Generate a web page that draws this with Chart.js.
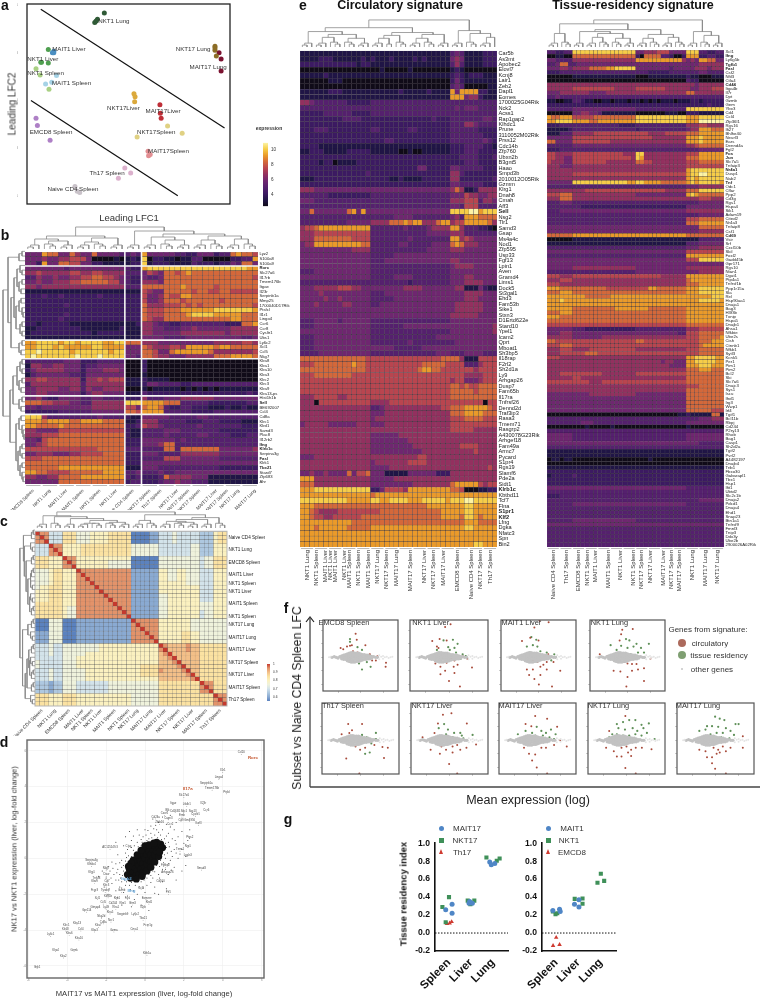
<!DOCTYPE html>
<html>
<head>
<meta charset="utf-8">
<title>Signature figure</title>
<script src="https://cdn.jsdelivr.net/npm/chart.js@4"></script>
<style>
html, body { margin: 0; padding: 0; background: #fff; }
#page { position: relative; width: 763px; height: 998px; overflow: hidden; font-family: "Liberation Sans", Arial, sans-serif; color: #222; }
#page canvas { position: absolute; }
.txt { position: absolute; white-space: nowrap; transform: translate(-50%, -50%); will-change: transform; }
.key { position: absolute; }
</style>
</head>
<body>
<div id="page"></div>
<script>
// ===== PANEL A: leading LFC scatter =====
const aSubsets = ['NKT1 Lung', 'MAIT1 Liver', 'NKT1 Liver', 'NKT1 Spleen', 'MAIT1 Spleen', 'NKT17 Lung', 'MAIT17 Lung', 'NKT17 Liver', 'MAIT17 Liver', 'NKT17 Spleen', 'MAIT17 Spleen', 'EMCD8 Spleen', 'Th17 Spleen', 'Naive CD4 Spleen'];
const aColors = ['#2f5a36', '#4a8fc2', '#4f9f50', '#a9d083', '#a6d3e6', '#8c6d26', '#7b1230', '#dba93c', '#bf2f38', '#e0d183', '#e28e92', '#ae80c6', '#dcb1cd', '#c9c2c9'];
const aPoints = [
    [[-.05, .55], [-.10, .51], [-.12, .49], [-.11, .50]],
    [[-.42, .31], [-.42, .30], [-.43, .30]],
    [[-.46, .32], [-.51, .24], [-.515, .24], [-.46, .235]],
    [[-.55, .20], [-.52, .16], [-.455, .07]],
    [[-.40, .157], [-.435, .114], [-.48, .104]],
    [[.76, .34], [.76, .33], [.76, .316], [.77, .28]],
    [[.79, .30], [.805, .26], [.805, .186]],
    [[.167, .043], [.175, .024], [.172, -.008]],
    [[.357, -.027], [.36, -.08], [.366, -.112]],
    [[.413, -.16], [.52, -.206], [.19, -.23]],
    [[.27, -.318], [.286, -.339], [.274, -.347]],
    [[-.55, -.112], [-.54, -.157], [-.447, -.25]],
    [[.10, -.424], [.143, -.455], [.053, -.488]],
    [[-.265, -.54], [-.248, -.57], [-.23, -.578]]
];
const aLabelNames = ['NKT1 Lung', 'MAIT1 Liver', 'NKT1 Liver', 'NKT1 Spleen', 'MAIT1 Spleen', 'NKT17 Lung', 'MAIT17 Lung', 'NKT17Liver', 'MAIT17Liver', 'NKT17Spleen', 'EMCD8 Spleen', 'MAIT17Spleen', 'Th17 Spleen', 'Naive CD4 Spleen'];
const aLabelX = [.02, -.31, -.5, -.48, -.29, .6, .71, .09, .38, .33, -.44, .42, -.03, -.28];
const aLabelY = [.5, .32, .26, .17, .11, .32, .21, -.05, -.07, -.2, -.2, -.32, -.46, -.56];
const aLineTop = [[-.515, .573], [.83, -.173]];
const aLineBottom = [[-.587, 0], [.488, -.598]];

// ===== PANEL G: tissue residency index =====
const gLeftBlue = [[-.15, .26], [.14, .32], [.14, .22], [.91, .33], [1.06, .33], [.94, .35], [1.85, .79], [1.92, .76], [2.08, .775]];
const gLeftGreen = [[-.3, .29], [0, .40], [-.15, .12], [.85, .36], [1.15, .36], [.97, .32], [1.7, .84], [2.17, .805], [2.3, .83]];
const gLeftRed = [[-.09, .105], [.03, .11], [.12, .125]];
const gRightBlue = [[-.15, .25], [.15, .265], [.18, .24], [.82, .32], [1.02, .37], [1.02, .29]];
const gRightGreen = [[-.15, .24], [-.03, .21], [.05, .22], [.83, .38], [1.18, .385], [1.18, .325], [1.85, .56], [2, .66], [2.15, .58]];
const gRightRed = [[0, -.05], [-.14, -.14], [.15, -.13]];
const gCategories = ['Spleen', 'Liver', 'Lung'];

// ===== PANEL D: MAIT17 vs NK17 log-fold change =====
const dCore = [[-.9, -.9], [-.8, -.6], [-.7, -1], [-.7, -.4], [-.6, -.8], [-.5, -1], [-.5, -.5], [-.5, -.2], [-.4, -.7], [-.3, -.9], [-.3, -.4], [-.3, 0], [-.2, -.6], [-.2, -.2], [-.1, -.8], [-.1, -.3], [-.1, .2], [0, -.5], [0, 0], [0, .4], [.1, -.3], [.1, .2], [.1, .6], [.2, -.1], [.2, .4], [.3, -.2], [.3, .2], [.3, .7], [.4, 0], [.4, .5], [.5, .2], [.5, .7], [.6, .4], [.6, .9], [.7, .6], [.8, .8], [.9, .6], [-.6, -.1], [-.4, .2], [-.2, .45], [0, .7], [.2, .75], [-.7, -.25], [-.85, -.45], [-.45, -1.15], [-.15, -1], [.1, -.7], [.3, -.5], [.5, -.2], [.7, .1], [.75, .35], [-.75, -1.1], [.45, .85]];
const dHalo = [[-1.2, -1.3], [-1.1, -.7], [-1.3, -.9], [-1, -1.5], [-.8, -1.5], [-1.5, -1.2], [-1.3, -1.6], [-.5, -1.5], [-.2, -1.3], [.1, -1.1], [.2, -.9], [.4, -.7], [.6, -.4], [.8, -.1], [1, .2], [1.1, .6], [1.2, .9], [1, 1.1], [.8, 1.3], [.5, 1.3], [.2, 1.1], [0, .9], [-.2, .7], [-.5, .3], [-.7, .1], [-.9, -.2], [-1.1, -.4], [-1.4, -.6], [-1.6, -.9], [-1.7, -1.4], [-1.5, -1.8], [-1.1, -1.9], [-.6, -1.8], [-.3, -1.6], [.1, -1.5], [.4, -1.1], [.7, -.9], [.9, -.6], [1.2, -.3], [1.4, .1], [1.5, .5], [1.6, .8], [1.4, 1.1], [1.2, 1.4], [.9, 1.6], [.6, 1.6], [.3, 1.4], [-.1, 1.2], [-.4, .9], [-.7, .6], [-1, .3], [-1.2, -.1], [-1.5, -.3], [-1.8, -.7], [-2, -1.1], [-2.1, -1.6], [-1.9, -2], [-1.4, -2.2], [-.9, -2.1], [-.4, -2], [0, -1.9], [.5, -1.6], [.9, -1.3], [1.2, -.9], [1.5, -.5], [1.7, 0], [1.9, .5], [1.7, 1.2], [1.5, 1.6], [1.1, 1.9], [.7, 2], [.3, 1.8], [0, 1.6], [-.3, 1.3], [-.7, 1], [-1.1, .7], [-1.4, .2], [-1.7, -.2], [-2.2, -.7], [-2.4, -1], [-1.2, -2.6], [-.7, -2.7], [.3, -2.2], [.7, -2], [1.1, -1.7], [1.6, -1.2], [1.9, -.7], [2.1, .1], [2.2, 1], [1.9, 1.5], [1.6, 2], [.9, 2.3], [.4, 2.2], [-.4, 1.6], [-1, 1.2], [-1.5, .9], [-.8, 1.5], [1.3, 2.4], [2.3, 1.6], [2.1, -.4], [.2, -2.9], [-.2, -2.6], [-1.25, -1.1], [-1.05, -1.2], [-1.15, -.95], [-.95, -1.3], [-.7, -1.35], [-.35, -1.3], [-.05, -1.2], [.3, -.95], [.5, -.75], [.75, -.45], [.95, -.25], [1.05, 0], [1.15, .3], [1.25, .65], [1.05, .85], [.85, 1.05], [.65, 1.15], [.35, 1.15], [.1, 1], [-.15, .9], [-.35, .65], [-.6, .45], [-.85, .15], [-1, -.15], [-1.2, -.5], [-1.45, -.8], [-1.35, -1.2], [1.3, -.1], [1.35, .4], [1.1, 1.25], [.7, 1.45], [.05, 1.3], [-.55, .7], [-.9, .5], [-1.3, -.25], [-1.65, -.55], [-1.75, -1.1], [-1.2, -1.65], [-.75, -1.75], [-.1, -1.65], [.3, -1.35], [.75, -1.1], [1.05, -.6], [1.6, .3], [1.55, 1], [.45, 1.65], [.55, 1.85], [.15, 1.55], [-.2, 1.05], [-.95, .05], [-1.9, -.45], [-1.85, -1.7], [-.55, -2.3], [.5, -1.95], [1.35, -.65], [1.8, .25], [2, .85], [1.3, 1.75], [-.6, 1.25]];
const dGeneNames = ['Ccl20', 'Il1r1', 'Lingo4', 'Serpinb1a', 'Tmem176b', 'Ptsfcl', 'Slc27a6', 'Il23r', 'Itgae', 'Ltb4r1', 'Blk', 'Cd163l1', 'Sdc1', 'Sox13', 'Ccr6', 'Cxcr6', 'Emb', 'Cysltr1', 'Cd24a', 'Capn3', 'Cd9', 'Gm4956', 'Zbtb16', 'Ccr2', 'Ikzf3', 'Ptgs2', 'Nrp1', 'Trem1', 'Lgals3', 'AC125149.3', 'Ctsg', 'Serpina3g', 'Klhdc4', 'Nkg7', 'Klrg1', 'Smad3', 'Arhgap26', 'Fgfbp2', 'Tnfsf8', 'Ctsw', 'Cd7', 'Klra9', 'Klrc3', 'Fcgr3', 'Tyrobp', 'Gzmb', 'Ccl3', 'Prf1', 'Cd160', 'Xcl1', 'Klrb1b', 'Klrk1', 'Fasl', 'Eomes', 'Klrd1', 'Ccl5', 'Cd244', 'Klre1', 'Ifitm3', 'Gimap4', 'Ly49', 'Klra1', 'Il2rb', 'Gpr114', 'Klra5', 'Serpinb9', 'Ly6c2', 'Nkg2d', 'Ncr1', 'Cd8a', 'Tbx21', 'Klra7', 'Fcer1g', 'Klra13', 'Klrc1', 'Klra8', 'Ccl4', 'Klra3', 'Gzma', 'Cma1', 'Ly6c1', 'Klra6', 'Klra10', 'Klra4', 'Gzmk', 'Klra2', 'Klrb1a', 'Ifnb1'];
const dGeneX = [4.95, 4, 3.8, 3.15, 3.45, 4.2, 2, 3, 1.45, 2.15, 1.15, 1.55, 2, 2.45, 3.15, 1, 1.9, 2.6, .55, 1.2, 1.85, 2.3, .75, 1.3, 2.75, 2.3, 2.2, 1.8, 2.2, -1.8, -.85, -2.75, -2.75, -2, -2.75, 2.9, 1.15, 1.05, -2.5, -2, -1.95, -2.6, -2, -2.6, -2.05, -1.2, -.2, 1.2, .8, -2.45, -1.9, -1.45, -.9, .05, .2, -2.15, -1.65, -1.15, -.65, -2.55, -2, -1.5, -.1, -3, -1.8, -1.15, -.5, -2.25, -1.75, -2.15, -.1, -2.4, .15, -3.5, -4.05, -4.1, -3.3, -2.6, -1.6, -.55, -4.85, -3.9, -3.4, -4.6, -3.65, -4.2, .1, -5.55];
const dGeneY = [5.8, 4.8, 4.4, 4.1, 3.8, 3.6, 3.4, 3, 3, 2.9, 2.6, 2.55, 2.55, 2.55, 2.6, 2.4, 2.3, 2.35, 2.2, 2.15, 2.05, 2.05, 1.9, 1.8, 1.85, 1.1, .6, .4, .1, .5, .6, -.2, -.45, -.65, -.85, -.65, -.9, -.5, -1.2, -1, -1.35, -1.4, -1.6, -1.85, -1.9, -1.9, -1.75, -2, -1.35, -2.3, -2.2, -2.3, -2.3, -2.3, -2.55, -2.55, -2.6, -2.6, -2.6, -2.8, -2.85, -2.85, -2.8, -3, -3.1, -3.2, -3.2, -3.35, -3.55, -3.65, -3.45, -3.85, -3.8, -3.7, -3.85, -4.05, -4.05, -4.1, -4.1, -4.05, -4.35, -4.3, -4.55, -5.2, -5.2, -5.55, -5.4, -6.15];
const dHighlights = [['Rorc', 5.55, 5.6, '#c4552d'], ['Il17a', 2.2, 3.9, '#c4552d'], ['Itgb2', -.95, -1.15, '#62a3d6'], ['Ifng', -.7, -1.8, '#62a3d6']];
const dTicks = [-6, -4, -2, 0, 2, 4, 6];

// ===== PANEL F: MA plots, x is log mean expression, y is LFC =====
const fBackground = [[2.4, 0], [3, .1], [3.5, 0], [4, -.1], [4.5, .1], [5, .2], [5, -.2], [5, 0], [5.5, .3], [5.5, -.3], [5.5, 0], [6, .4], [6, -.3], [6, 0], [6.5, .5], [6.5, -.5], [6.5, 0], [6.5, .25], [6.5, -.25], [7, .6], [7, -.6], [7, 0], [7, .3], [7, -.3], [7.5, .7], [7.5, -.7], [7.5, .2], [7.5, -.2], [7.5, .45], [7.5, -.45], [8, .7], [8, -.7], [8, 0], [8, .35], [8, -.35], [8.5, .6], [8.5, -.7], [8.5, .1], [8.5, .35], [8.5, -.3], [9, .6], [9, -.6], [9, 0], [9, .3], [9, -.3], [9.5, .6], [9.5, -.6], [9.5, 0], [9.5, .3], [9.5, -.3], [10, .5], [10, -.5], [10, 0], [10, .25], [10, -.25], [10.5, .4], [10.5, -.4], [10.5, 0], [11, .4], [11, -.3], [11, 0], [11.5, .3], [11.5, -.3], [11.5, 0], [12, .3], [12, -.2], [12, 0], [12.5, .2], [12.5, -.2], [12.5, 0], [13, .1], [13, -.1], [13.5, .1], [14, 0], [14.5, 0]];
const fTail = [[15, .3], [15, -.3], [15.5, .1], [16, .2], [16, -.2], [16.5, 0], [17, .1], [17.5, -.1], [18, 0], [18.5, .1], [1.6, 0], [2, .1]];
const emcd8Red = [[8.7, 3.5], [9, 2.6], [4.7, 1.4], [5.4, 1.2], [6.4, 1.6], [7.2, 1.7], [7.7, 1.8], [8, .9], [9.2, .7], [11.3, 1.8], [12.5, .45], [14.5, .15], [14.1, -.45], [13.1, -.45], [16.8, -.8], [16.7, -1.4], [7.2, -.7], [8.4, .45], [10, .15], [11.7, -.2], [5.6, .2]];
const emcd8Green = [[7.2, 2.7], [7.2, 2.3], [9.2, 1.5], [10.4, 1.1], [9.6, .45], [12.9, .2], [12.1, 0], [10.4, -1.8], [12.7, -1.4], [9.6, -.9], [8, -.45], [6.4, 0], [11.7, -.7]];
const nkt1LiverRed = [[10.4, 4.9], [9, 4.5], [7.6, 2.7], [5.7, 2.4], [6.9, 1.6], [7.3, 1.4], [9.4, 2.5], [6.5, -.9], [7.8, -1.4], [9.4, -.8], [10.6, -.2], [11.4, -.45], [11.2, -1.4], [12.2, -1.1], [13.5, .2], [14.7, -.2], [15.9, -1.5], [9, -2], [7.8, -2.5], [11.4, -2.3], [10, -3.5], [12.8, -4.3]];
const nkt1LiverGreen = [[11, 2.6], [9.8, 1.5], [8.6, 2.5], [10.2, 1.1], [11.4, 1.4], [12.2, 2], [13.5, .45], [14.3, .2], [11.8, .7], [9.4, .45], [7.3, .7], [10.6, .2], [8.6, -.2], [13, -.2], [6.9, 1.1]];
const mait1LiverRed = [[10.3, 5.4], [8.9, 4.4], [5.6, 2.4], [7.8, 2.9], [10, 2.5], [8.5, -.45], [9.7, -.7], [10.9, -.2], [12.2, -.7], [11.3, -1.1], [10.5, -1.4], [12.6, .45], [14, -.7], [15.8, -2], [6.9, -1.8], [8.5, -1.8], [7.5, -2.6], [10.5, -2.6], [12.2, -1.8], [8.9, -3.2], [10.1, -4], [13.6, -4.3], [12.7, 5.2]];
const mait1LiverGreen = [[8.1, 3], [9.4, 2.6], [6.9, 1.6], [8.5, 1.8], [9.7, 1.6], [10.5, .9], [12.2, .7], [14.2, .45], [14.6, 0], [12.6, 0], [7.7, .7], [5.6, .2], [8.9, 0], [11.3, .2], [13.4, -.45]];
const nkt1LungRed = [[8.6, 4.1], [11.4, 4.2], [8.3, 3.4], [7.9, 2.5], [4.7, .2], [2.6, .45], [10, -.9], [11.2, -1], [12.4, -1], [9.1, -.7], [6.3, -2], [8.1, -2.1], [11.2, -2], [12.8, -1.8], [14.4, -1.6], [10, -2.9], [14.4, -3.5], [9.7, -4.3], [16.1, -.2]];
const nkt1LungGreen = [[9.6, 2.7], [10.5, 2.5], [7.1, 1.1], [8.3, 1.7], [10, 1.4], [11.6, 1.6], [12.4, 2], [13.6, 1.4], [15.7, 2], [14.4, .7], [6.7, .45], [8.7, .45], [10.8, .45], [12.8, .7], [14.4, 0], [5.5, 1.8]];
const th17Red = [[6.8, 2.4], [10.4, 2.4], [7.8, 1.5], [7.1, 1.1], [5.1, .9], [5.9, .3], [8.7, -.9], [9.9, -1.4], [11.2, -1.1], [13.6, -.7], [15.7, -1], [17.1, -1.1], [16.1, -2.6], [6.3, -2.7], [9.7, -4.9], [12.4, -.2], [7.1, 0]];
const th17Green = [[10.4, .8], [11.6, .45], [14, .2], [14, 1.1], [7.9, .2], [9.5, .2], [12.4, -1.8], [11.2, -2], [12.8, -.45], [4.6, 0], [10.4, -.2]];
const nkt17LiverRed = [[8.3, 3.8], [10.5, 4], [7, 2.5], [14.5, 2.5], [6.1, 1.1], [3, .45], [4.7, 0], [5.9, -.2], [5.1, -1.4], [7.5, -2], [9.1, -1.4], [10.8, -.9], [12, -.7], [12.8, -1.4], [14.4, -1.1], [16.9, -.6], [9.9, -3.5], [12, -4.9], [7.9, -.9], [10.8, -1.8]];
const nkt17LiverGreen = [[8.6, 2.4], [7.2, 1.8], [9.6, 1.6], [9.1, .9], [11.2, 1.1], [13.2, .7], [12.8, 1.1], [16, .8], [13.6, .3], [10.8, .45], [8.3, .6], [12, .2]];
const mait17LiverRed = [[6.9, 2.4], [9.4, 3.6], [12.5, 3.2], [15.1, 2], [8.4, 2.1], [6.1, -.2], [7.8, -.7], [11, -1.1], [12.2, -1.1], [14.3, -.7], [17.6, -.9], [6.5, -1.1], [7.8, -2], [9.4, -2.1], [8.6, -3], [9.8, -4], [12.5, -4.9], [15.9, 0]];
const mait17LiverGreen = [[6.9, 1.4], [8.6, 1.1], [9.8, 2], [11, 1.4], [12.2, 1.1], [13.5, 1.6], [14.7, .9], [4.9, .9], [7.8, .45], [9.4, .7], [11.4, .7], [13.1, .45], [14.3, .2], [10.2, .2]];
const nkt17LungRed = [[5.5, 1.4], [9.7, 3.6], [7.5, -.2], [8.7, -1.1], [10, -.9], [11.2, -1.4], [12.4, -1.1], [10.4, -1.8], [7.5, -2.4], [8.7, -2.4], [4.7, -1.1], [6.7, -1.6], [14, -1.1], [16.5, -1.3], [9.7, -4.1], [12.4, -4.9], [11.2, -2.3]];
const nkt17LungGreen = [[7.5, 2.4], [9.1, 2.7], [10.7, 3], [12.3, 3], [13.9, 2.3], [15.8, 2.5], [14.4, 1.8], [6.3, .9], [7.9, 1.8], [9.6, 1.6], [11.6, 1.8], [12.8, 1.4], [7.5, .9], [9.1, .7], [10.7, .7], [12.3, .9], [13.9, .7], [15.3, 1.1], [17.3, .2], [5.5, .45]];
const mait17LungRed = [[9.1, -3.4], [9.9, -4.2], [12.7, -4.9], [7.8, -2.5], [9.1, -2.5], [5.8, -1.4], [7.4, -1.6], [9.5, -1.1], [10.7, -1.4], [11.9, -.9], [12.7, -1.6], [10.3, -2], [17.1, -1.1], [17.1, .6], [7, -.45], [11.1, -1.8], [13.9, -1.1]];
const mait17LungGreen = [[9.9, 3.5], [11.1, 3.2], [12.3, 3], [15.2, 2.4], [16, 2.4], [7.8, 2.1], [9.1, 2.1], [10.7, 2], [12.7, 1.8], [5.8, 1.4], [7.4, 1.6], [8.7, .9], [10.3, 1.1], [11.9, 1.1], [13.9, 1.4], [9.5, .45], [11.5, .45], [13.6, .3], [14.8, .8], [6.6, .45]];

// ===== PANEL B: expression levels, one hex digit per cell (18 | 3 | 21 columns) =====
const bGenes = ['Lyz2', 'S100a8', 'S100a9', 'Rorc', 'Slc27a6', 'Il17rb', 'Tmem176b', 'Itgae', 'Il23r', 'Serpinb1a', 'Mmp25', '1700040D17Rik', 'Ptsfcl', 'Il1r1', 'Lingo4', 'Ccr6', 'Ccr8', 'Cysltr1', 'Ubs1', 'Ly6c2', 'Xcl1', 'Ccl5', 'Nkg7', 'Klra8', 'Klra1', 'Klra10', 'Klra3', 'Klrc2', 'Klrc3', 'Klra9', 'Klra13-ps', 'Hist1h1b', 'Sell', 'BE692007', 'Ccl4', 'Cd8a', 'Klrc1', 'Klrd1', 'Samd3', 'Plac8', 'Il12rb2', 'Ifng', 'Klrb1c', 'Serpina3g', 'Fasl', 'Klrk1', 'Tbx21', 'Stard7', 'Zfp683', 'Ahr'];
const bRows = [
    '444877 447544 744443 343 8444443 3224442 3378776',
    '444544 556664 000010 121 9022110 1133000 0022338',
    '442844 776644 221111 122 9122211 1132221 2243774',
    '444444 434444 444444 322 8999999 9999999 9999988',
    '556555 556655 665555 333 4654776 7877777 7777777',
    '335445 445566 776654 322 4334777 7777777 7777776',
    '445445 556677 777664 322 5554777 7777777 7777777',
    '554555 555555 555555 333 7777777 8777776 7777777',
    '111111 111111 111111 111 6544777 7767766 7766666',
    '222322 322222 232222 222 6445766 8877777 7777777',
    '222222 222222 222222 222 6445777 6777777 6777777',
    '222222 232222 222222 222 7555666 7676777 7777776',
    '222222 222222 222222 222 7666777 8888889 9999998',
    '222222 232222 222222 222 7666777 7899998 8888777',
    '222222 322222 222222 222 7655777 7777777 7788777',
    '221222 221111 111111 112 5543322 3333333 3222778',
    '112222 222211 111112 111 5544333 4454444 4455555',
    '122222 222222 122222 111 5544444 5555555 5455555',
    '111111 111111 111111 111 4444333 3444444 4444334',
    '889999 899899 998899 777 5554444 4444445 5555665',
    '889998 988888 998888 444 7655566 5888887 8877777',
    '99a999 998999 999899 444 7764478 8888875 5555556',
    '9a9999 999a99 9a9999 443 7765544 4555557 7788887',
    '233333 344422 233333 000 2000000 0000000 0000000',
    '155445 544423 344444 000 2000000 0000000 0000000',
    '245555 544424 445554 000 2000000 0000000 0000000',
    '134444 443324 444444 000 1000000 0000000 0000000',
    '556655 555525 565666 111 2111100 0000000 0000000',
    '355555 555535 555555 111 2443333 2233333 3333333',
    '445555 445535 445555 000 1011111 0101010 1111111',
    '445544 444424 554444 111 3222222 2222222 2222232',
    '445322 444433 443333 222 5333444 5555554 4444444',
    '777665 554433 555555 999 8888777 3333322 2222233',
    '443444 444444 555555 664 7887322 3322211 1211211',
    '222222 333333 444444 776 8888333 3322223 3333333',
    '999533 333333 343333 211 4444433 3334433 3333333',
    '888788 887788 887777 112 5553333 3222333 2222111',
    '887777 877777 777777 223 6554333 3334333 3333222',
    '554444 666666 666666 211 3333444 3333333 2222222',
    '555666 777777 777777 211 3333433 3334433 3322233',
    '443677 777777 777777 222 4444443 4333333 3333333',
    '445677 777777 777777 222 4445773 3333333 3333333',
    '666666 666666 677777 333 3333773 7777777 4444445',
    '445554 445566 667777 222 4443333 5555555 4444444',
    '666777 777777 777777 222 3333666 4444444 3333333',
    '777777 777777 777777 222 4444444 4444444 4444444',
    '777777 888888 888888 111 4443333 3333333 2222222',
    '887766 667777 778888 334 3334334 4444444 4444444',
    '554455 777788 888888 323 2223755 5544411 1111111',
    '444444 777777 777777 233 2223445 4433311 1111111'
];
const bSampleIdx = [1, 4, 7, 10, 13, 16, 19, 22, 24, 27, 29, 31, 34, 36, 38, 41];
const bSampleNames = ['EMCD8 Spleen', 'NKT1 Lung', 'MAIT1 Liver', 'MAIT1 Spleen', 'NKT1 Spleen', 'NKT1 Liver', 'Naive CD4 Spleen', 'NKT17 Spleen', 'Th17 Spleen', 'NKT17 Liver', 'MAIT17 Spleen', 'NKT17 Spleen', 'MAIT17 Liver', 'MAIT17 Spleen', 'NKT17 Lung', 'MAIT17 Lung'];

// ===== PANEL C: sample correlation, one digit per cell (low 0 to high 9) =====
const cSampleIdx = [1, 4, 7, 10, 12, 14, 17, 20, 22, 25, 28, 31, 34, 37, 40];
const cSampleNames = ['Naive CD4 Spleen', 'NKT1 Lung', 'EMCD8 Spleen', 'MAIT1 Liver', 'NKT1 Spleen', 'NKT1 Liver', 'MAIT1 Spleen', 'NKT1 Spleen', 'NKT17 Lung', 'MAIT17 Lung', 'MAIT17 Liver', 'NKT17 Spleen', 'NKT17 Liver', 'MAIT17 Spleen', 'Th17 Spleen'];
const cRows = [
    '988 333 666 444555566666 000011 333433333 222 566',
    '898 333 666 444555566666 000011 333433333 222 566',
    '889 333 666 444555566666 000011 333433333 222 566',
    '333 988 555 566666666666 444444 333333344 222 555',
    '333 898 555 566666666666 444444 333333344 222 555',
    '333 889 555 566666666666 444444 333333344 222 555',
    '666 555 988 555555555555 000000 444444444 344 666',
    '666 555 898 555555544444 000000 444444444 344 666',
    '666 555 889 555555544444 000000 444444444 344 666',
    '444 566 555 988888888888 111111 554455444 333 555',
    '444 566 555 898888888888 111111 554455444 333 555',
    '444 566 555 889888888888 111111 554455444 333 555',
    '444 566 555 888988888888 111111 555555444 333 555',
    '455 666 555 888898888888 111111 555555555 333 555',
    '555 666 555 888889888888 111111 555555555 333 555',
    '555 666 555 888888988888 111111 445555555 333 555',
    '555 666 555 888888898888 111111 445555555 333 555',
    '666 666 555 888888889888 111111 445555555 444 555',
    '666 666 544 888888888988 111111 445555555 444 555',
    '666 666 544 888888888898 111111 445555555 344 555',
    '666 666 544 888888888889 111111 445555555 344 555',
    '000 444 000 111111111111 988888 555555544 444 444',
    '000 444 000 111111111111 898888 555555544 444 444',
    '000 444 000 111111111111 889888 555555544 444 444',
    '111 444 000 111111111111 888988 555556655 444 444',
    '111 444 000 111111111111 888898 555556655 444 444',
    '111 444 000 111111111111 888889 555556655 444 444',
    '333 433 444 444445555555 555555 987777877 666 666',
    '333 433 444 444445555555 555555 897777877 666 666',
    '333 433 444 445555555555 555555 789777777 666 666',
    '333 333 444 555555555555 555555 778977777 666 666',
    '433 333 444 555555555555 555555 777897777 666 666',
    '433 333 444 555555555555 556666 777789777 666 666',
    '333 433 444 445555555555 556666 877778977 666 666',
    '333 433 444 445555555555 556666 777777897 666 666',
    '333 433 444 445555555555 555555 777777789 666 666',
    '222 122 444 333333344444 444444 666666666 988 666',
    '222 122 444 333333344444 444444 666666666 898 666',
    '222 122 444 333333344444 444444 666666666 889 666',
    '666 555 666 555555555555 444444 666666666 666 988',
    '666 555 666 555555555555 444444 666666666 666 898',
    '666 555 666 555555555555 444444 666666666 666 889'
];

// ===== PANEL E: circulatory signature (3 | 12 | 17 | 3 | 3 | 4 columns) =====
const circGenes = ['Car5b', 'As3mt', 'Apobec2', 'Elovl7', 'Kcnj8', 'Lair1', 'Zeb2', 'Dapl1', 'Eomes', '1700025G04Rik', 'Nck2', 'Acss1', 'Rap1gap2', 'Klhdc1', 'Prune', '3110052M02Rik', 'Prss12', 'Cdc14b', 'Zfp760', 'Ubxn2b', 'B3gnt5', 'Haao', 'Smpd3b', '2010012O05Rik', 'Gzmm', 'Klrg1', 'Dnah8', 'Cmah', 'Aff3', 'Sell', 'Nsg2', 'Tlr1', 'Samd3', 'Gsap', 'Ms4a4c', 'Nod1', 'Zfp595', 'Usp33', 'Fgf13', 'Lpin1', 'Aven', 'Gramd4', 'Lims1', 'Dock5', 'St3gal1', 'Ehd3', 'Fam53b', 'Sike1', 'Stxn3', 'D1Ertd622e', 'Stard10', 'Ypel1', 'Icam2', 'Qprt', 'Mboat1', 'Sh3bp5', 'Il18rap', 'F2rl2', 'Sh2d1a', 'Ly9', 'Arhgap26', 'Dusp7', 'Fam65b', 'Il17ra', 'Tnfrsf26', 'Dennd2d', 'Traf3ip3', 'Rasa3', 'Tmem71', 'Rasgrp2', 'A430078G23Rik', 'Arhgef18', 'Fam49a', 'Armc7', 'Pycard', 'S1pr4', 'Rgs19', 'Slamf6', 'Pde2a', 'Sidt1', 'Klrb1c', 'Kbtbd11', 'Tcf7', 'Flna', 'S1pr1', 'Klf2', 'Lfng', 'Dgka', 'Nfatc3', 'Spn', 'Bin2'];
const circRows = [
    '111 111111111111 11111111111111111 343 111 1222',
    '111 122211111121 21112111121211111 454 111 1222',
    '222 222222222122 11111111111111111 353 111 1222',
    '000 000000000000 00100000100000000 121 000 0000',
    '111 112111111111 11111111111111111 232 122 2111',
    '000 000111000000 00000000000000000 242 111 1111',
    '000 000000000000 00000000000000000 343 000 0011',
    '111 111222111111 11111121111121111 848 888 2211',
    '111 111111111111 11111111111111111 888 455 2111',
    '554 333333322222 33333333333333333 333 333 3333',
    '333 333333333333 33333333333333333 343 444 3333',
    '222 223333332222 33333333333333333 333 333 3333',
    '222 222222333322 22222222222223222 333 333 3443',
    '222 222222222222 22222222222222222 333 554 3333',
    '222 333222222222 33222222332222222 333 333 2222',
    '222 222222222222 22222222222222222 333 333 3222',
    '222 222222222222 22233222222222222 333 333 3432',
    '222 211111111111 11111111111111111 222 333 3221',
    '112 221111122222 11111100100111111 222 333 2222',
    '222 222222222222 22222222222222222 223 333 2223',
    '222 212201111222 22222222222222222 222 333 2222',
    '222 222222222222 22222222224422222 443 333 3222',
    '222 222222222223 22222222222222222 553 222 2222',
    '111 222222222222 22221121111222222 552 222 2223',
    '222 222222222222 22222222222222222 443 333 3222',
    '555 444444444444 44444444444444444 575 112 5555',
    '333 333222222222 33333333333333333 444 655 4455',
    '444 333333333333 33333333333333333 555 666 3554',
    '333 333333333333 33333333333333333 443 666 3333',
    '447 444444478484 44444444444444444 999 9aa 8999',
    '333 333333333333 33333444433333333 453 888 7777',
    '333 333333344444 55557778788555788 566 888 8875',
    '566 788888888888 33333334333345555 885 333 2210',
    '555 666666666666 33333333333344444 555 333 3333',
    '555 777777776666 33333333433333333 885 654 4444',
    '455 888888888877 33333344333334444 787 555 4444',
    '444 444444445555 33333333333344444 555 444 4444',
    '444 444444444444 33333444444444444 444 444 4444',
    '444 444444444444 33344444444444444 554 444 4444',
    '444 444444444444 33333333333333333 455 554 4444',
    '333 444444444444 33333333333333333 444 444 4444',
    '444 444444444444 33333444433333333 444 554 4444',
    '333 333333333333 33333333233333333 444 555 5444',
    '444 555556665544 44444445555444444 455 111 4211',
    '444 454444444444 33344444444444444 444 555 5444',
    '444 445445444444 33333444444444444 444 555 4444',
    '444 544444554444 33444444444444444 455 555 5444',
    '444 444444444444 44444444444444444 455 555 5444',
    '444 444444444444 44444444444444444 555 555 4444',
    '333 444443444444 33333333333333333 444 444 4444',
    '333 444444444444 33333334444444444 444 444 4445',
    '444 444444444444 33333333333333333 444 444 4445',
    '333 444444444444 33333333333333444 444 444 4444',
    '333 444444444444 33333333433333333 344 444 4444',
    '333 444444444444 44444333333444444 444 444 4444',
    '333 344444444444 33333333333333444 333 444 4333',
    '777 777777777776 66666666666666677 775 111 6666',
    '666 777777778776 66666666666777776 666 333 5666',
    '777 777777777776 66666666667887766 666 665 6666',
    '666 777777776666 66666666666666666 666 555 5666',
    '666 666666666666 66666666666666666 566 444 5666',
    '666 666666666666 66666666666666666 776 766 7777',
    '666 666666666666 66666666666666666 777 776 7777',
    '555 666665566666 66666666666666666 777 777 7777',
    '555 066666666666 55556666666666666 666 666 6066',
    '555 555555555555 33455555555555566 777 888 8876',
    '555 555555555555 44455555555555555 777 888 8777',
    '555 555555555555 45555555555555555 666 777 7666',
    '455 555444444555 44455555555555555 666 666 6666',
    '555 555555555555 55555555555555555 666 665 5555',
    '555 555555555555 44444455555555555 555 555 5555',
    '555 555555555555 44444444555555555 555 555 5555',
    '555 555555555555 44444444455555555 556 666 5555',
    '555 555555555555 44444444444555555 555 556 5555',
    '444 555555555555 55555555556655555 555 555 5555',
    '555 555555555555 45555555666655555 555 555 5555',
    '555 555555555555 44445555555555555 555 555 5565',
    '445 445444474667 44411111444444222 555 555 5555',
    '888 555555555555 44444555555555555 555 555 5555',
    '777 555555555555 44444444455555555 788 888 6566',
    '888 999999999999 22466665888888888 776 000 1122',
    '888 888888888888 78888888888888888 888 888 8888',
    '999 999999988888 99889999888999998 999 aa9 9999',
    '888 777777777777 77777777777788888 888 998 8888',
    '887 655556666666 66777777777777788 888 998 8888',
    '887 665566666677 77777777777777788 887 998 7888',
    '888 888888887777 77777777777777777 777 888 7777',
    '888 788888877777 88888888888888888 888 998 8888',
    '888 888888888888 88888888888888888 888 888 8888',
    '888 888888888888 88888888888888888 888 888 8888',
    '888 888888888888 88888888888888888 888 889 9888'
];
const circSampleIdx = [1, 3, 5, 6, 7, 9, 10, 12, 14, 16, 18, 20, 23, 26, 28, 30, 33, 36, 38, 40];
const circSampleNames = ['NKT1 Lung', 'NKT1 Spleen', 'MAIT1 Liver', 'NKT1 Liver', 'MAIT1 Liver', 'NKT1 Liver', 'MAIT1 Spleen', 'NKT1 Spleen', 'MAIT1 Spleen', 'NKT17 Lung', 'NKT17 Spleen', 'MAIT17 Lung', 'MAIT17 Spleen', 'NKT17 Liver', 'NKT17 Spleen', 'MAIT17 Liver', 'EMCD8 Spleen', 'Naive CD4 Spleen', 'NKT17 Spleen', 'Th17 Spleen'];

// ===== PANEL E: tissue-residency signature (6 | 15 | 12 | 3 | 6 columns) =====
const tissueGenes = ['Xcl1', 'Ifng', 'Ly6g5b', 'Tgfb1', 'Fasl', 'Csf2', 'Nfil3', 'Ctla4', 'Cd44', 'Itga4b', 'Il7r', 'Dpt', 'Gzmb', 'Gem', 'Ybx3', 'Cd4', 'Ccl4', 'Zfp36l1', 'Rgs16', 'Ifi27', 'Bhlhe40', 'Neurl3', 'Ears', 'Dennd4a', 'Fgl2', 'Fos', 'Jun', 'Slc7a5', 'Tnfaip3', 'Nr4a1', 'Dusp1', 'Nab2', 'Tnf', 'Odc1', 'Cflar', 'Ppp2', 'Cd3g', 'Rgs1', 'Hspa4', 'Sik1', 'Adam19', 'Cited2', 'Nr4a3', 'Tnfaip8', 'Csf1', 'Cd69', 'Vsir', 'Srf', 'Cxcl10b', 'Skil', 'Foxl2', 'Gadd45b', 'Gpr171', 'Rgs10', 'Ntan1', 'Dgat1', 'Ptp4a1', 'Tnfrsf1b', 'Ppp1r15a', 'Sla', 'Rel', 'Hsp90aa1', 'Dnaja1', 'Bag3', 'H3f3b', 'Txnip', 'Hspa5', 'Dnajb1', 'Ahsa1', 'Nfkbie', 'Ube2s', 'Cish', 'Ctnnb1', 'Nfkb1', 'Sytl3', 'Kcnk5', 'Per1', 'Pim1', 'Pim2', 'Bcl2', 'Ski', 'Slc7a6', 'Dnajc3', 'Sys1', 'Iscu', 'Ifrd1', 'Irg3', 'Wwp1', 'Irf4', 'Tgif1', 'Bcl11b', 'Rbpj', 'Cd244', 'P2ry13', 'Rhob', 'Bag1', 'Casp1', 'Sh2d2a', 'Tgif2', 'Pvrl2', 'A4482197', 'Dnajb4', 'Trib1', 'Fbxo30', 'Gabarapl1', 'Tbx1', 'Hsp1', 'Ifit1', 'Ubtd2', 'Slc2c1b', 'Dnaja2', 'Pdcd1', 'Dnaja4', 'Ehd1', 'Snap23', 'Btn1a1', 'Tnfrsf9', 'Fmnl3', 'Tnip3', 'Ddx3y', 'Ube2b', '2900026A02Rik'];
const tissueRows = [
    '332233 999999999999999 445556664444 999 332233',
    '001100 777777777777777 207777332002 888 223322',
    '443333 555555555555555 888888888885 454 887744',
    '334773 344444444444444 444444444444 444 555555',
    '444554 555577778899999 444444443444 445 554555',
    '222333 333333333333333 333222223333 333 443333',
    '000000 111111111111111 000111111111 211 000111',
    '000000 000000000000000 000000000000 322 000000',
    '555555 555555555555555 555555555555 554 555555',
    '555555 666666666655555 666666655555 544 555666',
    '444555 555544445555555 555555555555 775 555555',
    '334333 333333333333333 333333333333 333 333333',
    '110011 332110011011101 101010111011 122 122222',
    '222222 222222222222222 222222222222 222 223222',
    '333333 444444444444444 333333333333 999 999999',
    '000000 445544311111111 000000011100 222 111111',
    '877888 666667777777777 999999999999 888 999999',
    '889999 888877888888888 999999999999 888 aaaaaa',
    '222333 333333333332222 333333333333 555 665555',
    '111112 333333333333333 233333333333 455 888777',
    '111333 555556666666666 666555566666 777 888888',
    '444444 666666666666666 666655555555 888 988888',
    '774444 666666666555555 555555555555 888 988888',
    '333333 444444444444444 444444444444 556 777777',
    '222333 333333333333333 333333333333 333 444444',
    '665555 666666666666555 995555555555 666 888888',
    '665544 666666666666665 985555555555 777 888888',
    '655544 666666665555555 776655555555 666 777777',
    '555444 555555555555555 555555555555 666 666666',
    '555555 555555555555555 555555555555 899 999999',
    '555555 666666666666666 666666666666 899 aa9999',
    '555555 555555555555555 555555555555 898 999999',
    '444444 999999999999988 998888777777 898 999998',
    '333333 333333333333333 333333333333 444 555555',
    '555555 555666666666666 666666655555 777 999999',
    '666777 555555555555555 444444444444 898 777777',
    '555777 555555555555555 555555555555 555 666555',
    '333444 333333333333333 333333333333 333 444444',
    '333333 332222222222222 222222222222 444 444444',
    '333444 444444444444444 444444444444 555 555555',
    '333333 333333333333333 333333333333 333 444444',
    '333333 333333333333333 333333333333 666 777777',
    '333333 333333333333333 333333333333 777 888888',
    '444444 444444444444444 444444444444 444 777777',
    '444444 444444444444444 444444444444 444 555555',
    '777777 888888888888888 888888888888 777 777777',
    '000000 111111111111111 111111111111 111 333333',
    '111111 111111111111111 111111111111 333 444444',
    '333333 333333333333333 333333333333 444 555555',
    '444444 444444444444444 444444444444 666 666666',
    '333333 333333333333333 333333333333 888 888888',
    '444444 444444444444444 444444444444 666 999999',
    '444444 444444444444444 444444444444 444 444444',
    '444444 555555555555555 444444444444 555 555555',
    '333333 333333333333333 444444444444 444 555555',
    '666555 666666666666666 666666555555 888 888888',
    '555666 555555555555555 555555555555 788 888888',
    '666555 555555555555555 555555555555 777 888888',
    '888777 777777776666666 666887777777 888 999999',
    '777888 777777777777777 777777777777 888 999999',
    '888888 888777777888888 888888888888 888 888999',
    '888988 888888888888888 888888888888 888 999998',
    '888888 888888888888888 888888888888 888 888888',
    '888888 777777777788888 888777777777 888 888888',
    '777888 777777777777777 777777777777 888 888888',
    '888777 777777777777777 777777777777 888 888888',
    '777777 777777777777777 777777777777 888 888888',
    '666666 666666666666666 666666666666 777 777777',
    '444444 333222222222222 333333333333 555 666666',
    '444555 444444444444444 444444444433 666 777777',
    '555555 444444455555555 555555555555 666 777778',
    '776666 666666666666666 776666666666 666 777888',
    '666777 666666666666666 666666666666 666 788888',
    '555666 555566666666666 555555555555 666 777777',
    '555666 666777666666666 666666666666 666 777777',
    '666555 555555555555555 555555555555 889 999988',
    '555555 555555555555555 555555455444 889 999988',
    '555555 555555555555555 555555554444 888 999888',
    '555555 555555555555555 555555555555 777 888777',
    '555666 666666655555555 666666666666 777 777777',
    '555555 665555555555555 555555555555 777 777777',
    '666666 666655566666666 666666666666 777 777777',
    '555555 555555555555555 555555555555 666 777777',
    '555555 555555555555555 555555555555 777 777777',
    '444444 444455555555555 444444444444 777 777777',
    '444444 444444444444444 444444444444 777 777777',
    '444444 444444444444444 444444444444 777 777777',
    '444444 444444444444444 444444444444 777 777777',
    '444444 444444444444444 444444444444 777 777666',
    '000000 000000000000000 000000000011 211 111771',
    '333333 333333333333333 333333333333 333 444555',
    '333333 334443333333333 333333333333 444 444444',
    '000000 000100000100000 000000000000 100 000000',
    '333333 333333333333333 333333333333 333 333333',
    '444444 333333333333333 333333333333 444 444444',
    '444444 333333333333333 333333333333 444 444444',
    '444444 444444444444444 444444444444 444 333333',
    '333333 333333333333333 333333333333 333 333333',
    '111111 111111111111111 111111111111 111 111111',
    '111111 111111111111111 111111111111 111 111111',
    '011011 000000000000000 000100000000 000 000000',
    '000000 000000000000000 000000000000 000 000000',
    '111111 111111111111111 111111111111 111 111111',
    '222222 222222222222222 222222222222 222 222222',
    '122222 322222222222222 222222222222 222 222222',
    '222222 222222222222222 222222222222 222 222222',
    '222222 222222222222222 222222222222 222 222222',
    '444444 444444444444444 444444444444 333 333333',
    '333333 333333333333333 333333333333 333 333333',
    '222333 333333333333333 333333333333 333 333333',
    '333333 333333333333333 333333333333 333 444444',
    '333333 444444444444444 444444444444 333 333333',
    '333333 333333333333333 333333333333 333 333333',
    '333333 333333333333333 333333333333 333 333333',
    '333333 333333333333333 333333333333 333 333333',
    '333333 444444444444444 333333333333 333 333333',
    '444444 444444444444444 444444444444 444 444444',
    '333333 333333333333333 333333333333 333 333333',
    '333333 333333333333333 333333333333 333 333333',
    '333333 333333333333333 333333333333 333 333333',
    '333333 333333333333333 333333333333 333 333333',
    '333333 333333333333333 333333333333 333 333333'
];
const tissueSampleIdx = [1, 4, 7, 9, 11, 14, 17, 20, 22, 24, 27, 29, 31, 34, 37, 40];
const tissueSampleNames = ['Naive CD4 Spleen', 'Th17 Spleen', 'EMCD8 Spleen', 'NKT1 Spleen', 'MAIT1 Liver', 'MAIT1 Spleen', 'NKT1 Liver', 'NKT1 Spleen', 'NKT17 Spleen', 'NKT17 Liver', 'MAIT17 Liver', 'NKT17 Spleen', 'MAIT17 Spleen', 'NKT1 Lung', 'MAIT17 Lung', 'NKT17 Lung'];
const boldGenes = ['Rorc', 'Sell', 'Tbx21', 'Klrb1c', 'S1pr1', 'Klf2', 'Ifng', 'Tgfb1', 'Fasl', 'Cd44', 'Fos', 'Jun', 'Nr4a1', 'Tnf', 'Cd69'];

// ===== COLOUR SCALES =====
const infernoLevels = ['#100b18', '#201546', '#3c1a62', '#55206e', '#6f2670', '#93305f', '#b9454f', '#d4683a', '#ea9a2a', '#f6cd48', '#fcf4a6'];
const correlationLevels = ['#5b82bf', '#8aaad2', '#aec8e0', '#d3e3ea', '#eff2dc', '#fbf1c0', '#fbe2a2', '#f3bf88', '#e3936a', '#c5392e'];

// ===== DENDROGRAMS: [height, left, right], 1 is a leaf =====
const t3 = [4, [2, 1, 1], 1];
const t3b = [5, 1, [3, 1, 1]];
const t2 = [3, 1, 1];
const bColTree = [22,
    [13, [10, t3, [8, t3b, t3]], [11, [7, t3, t3b], t3]],
    [18, t3, [15, [12, t3, [9, t3b, t3]], [13, [9, t3, t3b], [10, t3, t3b]]]]];
const g3 = [6, [3, 1, 1], 1];
const g16 = [11, [8, [5, 1, [3, 1, 1]], [6, [3, 1, 1], [4, 1, 1]]], [9, [6, [4, 1, 1], [3, 1, [2, 1, 1]]], [5, [3, 1, 1], [3, 1, 1]]]];
const g4 = [6, [3, 1, 1], [4, 1, 1]];
const g8 = [8, [5, [3, 1, 1], [3, 1, 1]], [6, [3, 1, 1], [4, 1, 1]]];
const g15 = [9, [6, [4, 1, 1], [3, 1, [2, 1, [1, 1, 1]]]], [7, [5, [3, 1, 1], [3, 1, 1]], [5, [3, 1, 1], [3, 1, [2, 1, 1]]]]];
const bRowTree = [22, [17, g3, [14, g16, g4]], [15, [12, g8, g4], g15]];
const cTree = [17,
    [13, t3, [12, t3b, [10, t3, [8, [5, t3, t3b], [6, t3b, t3]]]]],
    [14, [8, t3, t3b], [11, [9, [7, t3, [6, t3b, t3]], t3], t3b]]];
const circTree = [28,
    [20, [16, t3, [13, [10, t3, t3b], [9, t3b, t3]]], [15, [12, [9, t3, t2], t3b], [13, [9, t3, t3b], t3]]],
    [17, t3, [14, t3b, [10, t3, 1]]]];
const tissueTree = [28,
    [24, [14, t3, t3b], [18, [16, t3, [14, [10, t3, t3b], [9, t3b, t3]]], [13, [9, t3, t3b], [10, t3, t3b]]]],
    [16, t3, [12, t3b, t3]]];

// ===== HELPERS =====
const FONT = '"Liberation Sans", Arial, sans-serif';
const page = document.getElementById('page');
Chart.defaults.font.family = FONT;
Chart.defaults.animation = false;
Chart.defaults.responsive = false;
Chart.defaults.devicePixelRatio = 1;
Chart.defaults.plugins.legend.display = false;
Chart.defaults.plugins.tooltip.enabled = false;

// Draws a box round the plot area
Chart.register({
    id: 'frame',
    afterDatasetsDraw(chart, args, opts) {
        if (!opts.color) return;
        const a = chart.chartArea;
        chart.ctx.save();
        chart.ctx.strokeStyle = opts.color;
        chart.ctx.lineWidth = opts.width;
        chart.ctx.strokeRect(a.left, a.top, a.width, a.height);
        chart.ctx.restore();
    }
});

// Text placed at data positions through the scales
Chart.register({
    id: 'notes',
    afterDatasetsDraw(chart, args, opts) {
        const items = chart.config.options.noteItems;
        if (!items) return;
        const c = chart.ctx;
        c.save();
        c.textAlign = 'center';
        c.textBaseline = 'middle';
        items.forEach(n => {
            c.font = n.font;
            c.fillStyle = n.color;
            c.fillText(n.text, chart.scales.x.getPixelForValue(n.x), chart.scales.y.getPixelForValue(n.y));
        });
        c.restore();
    }
});

// White separators between heatmap clusters, grey group bars under the columns
Chart.register({
    id: 'gaps',
    afterDatasetsDraw(chart) {
        const g = chart.config.options.gapLines;
        const c = chart.ctx, a = chart.chartArea;
        if (g) {
            c.save();
            c.strokeStyle = '#f4f4f4';
            c.lineWidth = 1.6;
            c.beginPath();
            g.rows.forEach(r => {
                const y = chart.scales.y.getPixelForValue(r - 0.5);
                c.moveTo(a.left, y);
                c.lineTo(a.right, y);
            });
            g.cols.forEach(k => {
                const x = chart.scales.x.getPixelForValue(k);
                c.moveTo(x, a.top);
                c.lineTo(x, a.bottom);
            });
            c.stroke();
            c.restore();
        }
        const bars = chart.config.options.groupBars;
        if (bars) {
            c.save();
            c.strokeStyle = '#b9b9b9';
            c.lineWidth = 1;
            c.beginPath();
            bars.forEach(k => {
                c.moveTo(chart.scales.x.getPixelForValue(k + .2), a.bottom + 1.5);
                c.lineTo(chart.scales.x.getPixelForValue(k + 2.8), a.bottom + 1.5);
            });
            c.stroke();
            c.restore();
        }
    }
});

function mount(x, y, w, h) {
    const canvas = document.createElement('canvas');
    canvas.width = w;
    canvas.height = h;
    canvas.style.left = x + 'px';
    canvas.style.top = y + 'px';
    canvas.style.width = w + 'px';
    canvas.style.height = h + 'px';
    page.appendChild(canvas);
    return canvas;
}

function text(str, cx, cy, css, rotate) {
    const d = document.createElement('div');
    d.className = 'txt';
    d.textContent = str;
    d.style.left = cx + 'px';
    d.style.top = cy + 'px';
    d.style.cssText += css;
    if (rotate) d.style.transform = 'translate(-50%, -50%) rotate(' + rotate + 'deg)';
    page.appendChild(d);
}

function fixedSize(prop, size) {
    return s => { s[prop] = size; };
}

function setTicks(values) {
    return s => { s.ticks = values.map(v => ({ value: v })); };
}

// Heatmap as stacked horizontal bars, one dataset per column
function heatmap(o) {
    const rows = o.rows.map(r => r.replace(/ /g, ''));
    const nCols = 42;
    const labels = rows.map((r, i) => o.rowLabels[i] || '');
    const datasets = [];
    for (let j = 0; j < nCols; j++) {
        datasets.push({
            data: rows.map(() => 1),
            backgroundColor: rows.map(r => o.palette[parseInt(r[j] || r[r.length - 1], 16)]),
            borderColor: o.border,
            borderWidth: o.borderWidth,
            borderSkipped: false,
            barPercentage: 1,
            categoryPercentage: 1
        });
    }
    const [x, y, w, h] = o.box;
    new Chart(mount(x - o.leftPad, y - 1, w + o.leftPad + o.rightW, h + o.bottomH + 1), {
        type: 'bar',
        data: { labels: labels, datasets: datasets },
        options: {
            indexAxis: 'y',
            layout: { padding: { left: o.leftPad, top: 1, right: 0, bottom: 0 } },
            gapLines: o.gaps,
            groupBars: o.groupBars,
            plugins: { frame: o.frame || {} },
            scales: {
                x: {
                    type: 'linear', stacked: true, min: 0, max: nCols, position: 'bottom',
                    grid: { display: false, drawTicks: false }, border: { display: false },
                    afterBuildTicks: setTicks(o.sampleIdx.map(i => i + 0.5)),
                    afterFit: fixedSize('height', o.bottomH),
                    ticks: {
                        autoSkip: false, minRotation: o.rot, maxRotation: o.rot, padding: o.xPad,
                        color: '#333', font: { size: o.xFont },
                        callback: v => o.sampleNames[o.sampleIdx.indexOf(v - 0.5)]
                    }
                },
                y: {
                    stacked: true, position: 'right',
                    grid: { display: false, drawTicks: false }, border: { display: false },
                    afterFit: fixedSize('width', o.rightW),
                    ticks: {
                        autoSkip: false, padding: 1.5, color: '#222',
                        font: c => ({ size: o.yFont, weight: o.boldRows && boldGenes.includes(c.tick.label) ? 'bold' : 'normal' })
                    }
                }
            }
        }
    });
}

// Dendrogram from nested [height, left, right]
function dendrogram(tree, box, nLeaves, maxH, sideways) {
    const pts = [];
    let leaf = 0;
    const add = (pos, h) => pts.push(sideways ? { x: h, y: pos } : { x: pos, y: h });
    const walk = node => {
        if (node === 1) { leaf++; return { pos: leaf - 0.5, h: 0 }; }
        const a = walk(node[1]), b = walk(node[2]);
        add(a.pos, a.h); add(a.pos, node[0]); add(b.pos, node[0]); add(b.pos, b.h);
        pts.push({ x: NaN, y: NaN });
        return { pos: (a.pos + b.pos) / 2, h: node[0] };
    };
    walk(tree);
    const [x, y, w, h] = box;
    const hScale = { display: false, min: 0, max: maxH };
    const leafScale = { display: false, min: 0, max: nLeaves };
    new Chart(mount(x, y, w, h), {
        type: 'scatter',
        data: { datasets: [{ data: pts, showLine: true, spanGaps: false, pointRadius: 0, borderColor: '#8a8a8a', borderWidth: 0.8, clip: false }] },
        options: {
            scales: sideways
                ? { x: { ...hScale, reverse: true }, y: { ...leafScale, reverse: true } }
                : { x: leafScale, y: hScale }
        }
    });
}

// Vertical colour key
function colorBar(box, rightW, min, max, colors, ticks, fmt, fontSize) {
    const [x, y, w, h] = box;
    new Chart(mount(x, y, w + rightW, h), {
        type: 'bar',
        data: {
            labels: ['key'],
            datasets: [{
                data: [[min, max]],
                barPercentage: 1,
                categoryPercentage: 1,
                backgroundColor: ctx => {
                    const a = ctx.chart.chartArea;
                    if (!a) return colors[0];
                    const g = ctx.chart.ctx.createLinearGradient(0, a.bottom, 0, a.top);
                    colors.forEach((c, i) => g.addColorStop(i / (colors.length - 1), c));
                    return g;
                }
            }]
        },
        options: {
            scales: {
                x: { display: false },
                y: {
                    min: min, max: max, position: 'right',
                    grid: { display: false, drawTicks: false }, border: { display: false },
                    afterBuildTicks: setTicks(ticks),
                    afterFit: fixedSize('width', rightW),
                    ticks: { autoSkip: false, padding: 3, color: '#333', font: { size: fontSize }, callback: fmt }
                }
            }
        }
    });
}

// ===== PANEL A =====
new Chart(mount(17, 0, 217, 213), {
    type: 'scatter',
    data: {
        datasets: aPoints.map((p, i) => ({
            data: p, backgroundColor: aColors[i], pointRadius: 2.5, pointBorderWidth: 0, label: aSubsets[i]
        })).concat([aLineTop, aLineBottom].map(l => ({
            data: l, showLine: true, pointRadius: 0, borderColor: '#111', borderWidth: 1.2
        })))
    },
    options: {
        layout: { padding: { top: 1, right: 2 } },
        noteItems: aLabelNames.map((t, i) => ({ text: t, x: aLabelX[i], y: aLabelY[i], font: '6.2px ' + FONT, color: '#333' })),
        plugins: { frame: { color: '#222', width: 1.3 } },
        scales: {
            x: {
                min: -.616, max: .87, grid: { display: false }, border: { display: false },
                afterBuildTicks: setTicks([-.5, 0, .5]),
                afterFit: fixedSize('height', 9),
                ticks: { autoSkip: false, color: '#888', font: { size: 3.4 }, padding: 1, callback: v => v.toFixed(1) }
            },
            y: {
                min: -.65, max: .606, grid: { display: false }, border: { display: false },
                afterBuildTicks: setTicks([-.6, -.3, 0, .3, .6]),
                afterFit: fixedSize('width', 10),
                ticks: { autoSkip: false, color: '#888', font: { size: 3.4 }, padding: 1, callback: v => v.toFixed(1) }
            }
        }
    }
});
text('Leading LFC1', 129, 217, 'font-size:9.5px;color:#333;');
text('Leading LFC2', 12, 104, 'font-size:10px;color:#333;', -90);
text('expression', 269, 128, 'font-size:5px;font-weight:bold;color:#333;');
colorBar([263, 137, 5, 75], 14, 2.5, 11, infernoLevels, [4, 6, 8, 10], v => v, 4.6);

// ===== PANEL B =====
heatmap({
    box: [25, 249, 233, 235], rows: bRows, rowLabels: bGenes, palette: infernoLevels,
    border: 'rgba(15,8,20,.55)', borderWidth: .45, leftPad: 22, rightW: 40, bottomH: 26, rot: 45, xPad: 4,
    xFont: 4.6, yFont: 4.2, boldRows: true, sampleIdx: bSampleIdx, sampleNames: bSampleNames,
    gaps: { rows: [3, 19, 23, 31, 35], cols: [18, 21] },
    groupBars: [0, 3, 6, 9, 12, 15, 18, 21, 24, 27, 30, 33, 36, 39]
});
dendrogram(bColTree, [25, 226, 233, 23], 42, 23, false);
dendrogram(bRowTree, [2, 249, 23, 235], 50, 23, true);

// ===== PANEL C =====
heatmap({
    box: [35, 528, 192, 178], rows: cRows, rowLabels: cRows.map((r, i) => cSampleNames[cSampleIdx.indexOf(i)]),
    palette: correlationLevels,
    border: 'rgba(40,40,40,.55)', borderWidth: .35, leftPad: 25, rightW: 38, bottomH: 30, rot: 45, xPad: 2,
    xFont: 4.8, yFont: 4.6, sampleIdx: cSampleIdx, sampleNames: cSampleNames,
    frame: { color: '#b5b5b5', width: 1 }
});
dendrogram(cTree, [35, 511, 192, 17], 42, 18, false);
dendrogram(cTree, [19, 528, 16, 178], 42, 18, true);
colorBar([267, 659, 3, 47], 10, .55, 1, correlationLevels.slice(0), [.6, .7, .8, .9, 1], v => v, 3.2);

// ===== PANEL D =====
new Chart(mount(19, 736, 249, 248), {
    type: 'scatter',
    data: {
        datasets: [
            { data: dCore, backgroundColor: '#111', pointRadius: 3.6, pointBorderWidth: 0 },
            { data: dHalo, backgroundColor: '#222', pointRadius: .5, pointBorderWidth: 0 },
            { data: dGeneX.map((x, i) => [x, dGeneY[i]]), backgroundColor: '#444', pointRadius: .35, pointBorderWidth: 0 }
        ]
    },
    options: {
        layout: { padding: { top: 2, right: 2 } },
        noteItems: dGeneNames.map((t, i) => ({ text: t, x: dGeneX[i], y: dGeneY[i] + .1, font: '2.8px ' + FONT, color: '#444' }))
            .concat(dHighlights.map(h => ({ text: h[0], x: h[1], y: h[2], font: 'bold 4.4px ' + FONT, color: h[3] }))),
        plugins: { frame: { color: '#666', width: 1.4 } },
        scales: {
            x: {
                min: -6.07, max: 6.12, grid: { color: '#efefef', lineWidth: .6, tickLength: 1 }, border: { display: false },
                afterBuildTicks: setTicks(dTicks),
                afterFit: fixedSize('height', 6),
                ticks: { autoSkip: false, color: '#888', font: { size: 2.8 }, padding: 0 }
            },
            y: {
                min: -6.67, max: 6.6, grid: { color: '#efefef', lineWidth: .6, tickLength: 1 }, border: { display: false },
                afterBuildTicks: setTicks(dTicks),
                afterFit: fixedSize('width', 8),
                ticks: { autoSkip: false, color: '#888', font: { size: 2.8 }, padding: 0 }
            }
        }
    }
});
text('MAIT17 vs MAIT1 expression (liver, log-fold change)', 144, 993, 'font-size:7.6px;color:#333;');
text('NK17 vs NKT1 expression (liver, log-fold change)', 14, 849, 'font-size:7.6px;color:#333;', -90);

// ===== PANEL E =====
text('Circulatory signature', 400, 5, 'font-size:12.5px;font-weight:bold;color:#111;');
text('Tissue-residency signature', 633, 5, 'font-size:12.5px;font-weight:bold;color:#111;');
heatmap({
    box: [300, 47, 197, 500], rows: circRows, rowLabels: circGenes, palette: infernoLevels,
    border: 'rgba(15,8,20,.55)', borderWidth: .45, leftPad: 0, rightW: 46, bottomH: 60, rot: 90, xPad: 3,
    xFont: 6, yFont: 5.6, boldRows: true, sampleIdx: circSampleIdx, sampleNames: circSampleNames,
    groupBars: [0, 3, 6, 9, 12, 15, 18, 21, 24, 27, 30, 33, 36, 39]
});
heatmap({
    box: [547, 47, 177, 500], rows: tissueRows, rowLabels: tissueGenes, palette: infernoLevels,
    border: 'rgba(15,8,20,.55)', borderWidth: .4, leftPad: 0, rightW: 39, bottomH: 60, rot: 90, xPad: 3,
    xFont: 6, yFont: 4.3, boldRows: true, sampleIdx: tissueSampleIdx, sampleNames: tissueSampleNames,
    groupBars: [0, 3, 6, 9, 12, 15, 18, 21, 24, 27, 30, 33, 36, 39]
});
dendrogram(circTree, [300, 19, 197, 28], 42, 29, false);
dendrogram(tissueTree, [547, 19, 177, 28], 42, 29, false);

// ===== PANEL F =====
function maPanel(name, box, red, green) {
    const [x, y, w, h] = box;
    const yMax = (h / 2 + 2) / 7.33;
    new Chart(mount(x - 2, y, w + 2, h + 2), {
        type: 'scatter',
        data: {
            datasets: [
                { data: fTail, backgroundColor: '#e4e4e4', pointRadius: 1, pointBorderWidth: 0 },
                { data: fBackground, backgroundColor: '#c2c2c2', pointRadius: 1.7, pointBorderWidth: 0 },
                { data: red, backgroundColor: '#a84a3a', pointRadius: 1, pointBorderWidth: 0 },
                { data: green, backgroundColor: '#5f9058', pointRadius: 1.1, pointBorderWidth: 0 }
            ]
        },
        options: {
            layout: { padding: 0 },
            plugins: { frame: { color: '#555', width: 1.2 } },
            noteItems: [{ text: name, x: 3.9 + name.length * .14, y: yMax - .5, font: '7.4px ' + FONT, color: '#333' }],
            scales: {
                x: {
                    min: 0, max: 20, border: { display: false }, grid: { drawOnChartArea: false, tickLength: 2, color: '#ccc' },
                    afterBuildTicks: setTicks([4, 10, 16]), afterFit: fixedSize('height', 2), ticks: { display: false }
                },
                y: {
                    min: -(h - (h / 2 + 2)) / 7.33, max: yMax, border: { display: false }, grid: { drawOnChartArea: false, tickLength: 2, color: '#ccc' },
                    afterBuildTicks: setTicks([-4, -2, 0, 2, 4]), afterFit: fixedSize('width', 2), ticks: { display: false }
                }
            }
        }
    });
}
maPanel('EMCD8 Spleen', [321, 616, 81, 77], emcd8Red, emcd8Green);
maPanel('NKT1 Liver', [408, 616, 84, 77], nkt1LiverRed, nkt1LiverGreen);
maPanel('MAIT1 Liver', [499, 616, 81, 77], mait1LiverRed, mait1LiverGreen);
maPanel('NKT1 Lung', [588, 616, 81, 77], nkt1LungRed, nkt1LungGreen);
maPanel('Th17 Spleen', [320, 699, 83, 77], th17Red, th17Green);
maPanel('NKT17 Liver', [409, 699, 83, 77], nkt17LiverRed, nkt17LiverGreen);
maPanel('MAIT17 Liver', [497, 699, 83, 77], mait17LiverRed, mait17LiverGreen);
maPanel('NKT17 Lung', [586, 699, 83, 77], nkt17LungRed, nkt17LungGreen);
maPanel('MAIT17 Lung', [675, 699, 83, 77], mait17LungRed, mait17LungGreen);

text('Subset vs Naive CD4 Spleen LFC', 297, 698, 'font-size:12.2px;color:#222;', -90);
text('Mean expression (log)', 528, 800, 'font-size:12.5px;color:#222;');
text('Genes from signature:', 708, 629, 'font-size:8px;color:#333;');
text('circulatory', 710, 643, 'font-size:8px;color:#333;');
text('tissue residency', 719, 655, 'font-size:8px;color:#333;');
text('other genes', 712, 669, 'font-size:8px;color:#333;');

// Arrow axes and legend marks for f, and legend marks for g
function mark(cx, cy, size, color, shape) {
    const d = document.createElement('div');
    d.className = 'key';
    d.style.left = (cx - size / 2) + 'px';
    d.style.top = (cy - size / 2) + 'px';
    if (shape === 'triangle') {
        d.style.cssText += 'width:0;height:0;border-left:' + size / 2 + 'px solid transparent;border-right:' + size / 2 + 'px solid transparent;border-bottom:' + size + 'px solid ' + color + ';';
    } else {
        d.style.cssText += 'width:' + size + 'px;height:' + size + 'px;background:' + color + ';' + (shape === 'circle' ? 'border-radius:50%;' : '');
    }
    page.appendChild(d);
}
mark(682, 643, 8, '#ac6a5c', 'circle');
mark(682, 655, 8, '#7f9f72', 'circle');
mark(682, 669, 1.5, '#ccc', 'circle');

new Chart(mount(300, 612, 463, 180), {
    type: 'scatter',
    data: {
        datasets: [
            { data: [[10, 5], [10, 175]], showLine: true, pointRadius: 0, borderColor: '#444', borderWidth: 1.3 },
            { data: [[10, 175], [460, 175]], showLine: true, pointRadius: 0, borderColor: '#444', borderWidth: 1.3 },
            { data: [[6, 10], [10, 5], [14, 10]], showLine: true, pointRadius: 0, borderColor: '#222', borderWidth: 1.2 }
        ]
    },
    options: {
        layout: { padding: 0 },
        scales: { x: { display: false, min: 0, max: 463 }, y: { display: false, min: 0, max: 180, reverse: true } }
    }
});

// ===== PANEL G =====
function residencyChart(box, blue, green, red, xMin, xMax) {
    const [x, y, w, h] = box;
    new Chart(mount(x - 32, y - 4, w + 36, h + 52), {
        type: 'scatter',
        data: {
            datasets: [
                { data: [[xMin, 0], [xMax, 0]], showLine: true, pointRadius: 0, borderColor: '#111', borderWidth: 1, borderDash: [1.5, 1.5] },
                { data: blue, backgroundColor: '#4f86c6', pointRadius: 2.5, pointBorderWidth: 0 },
                { data: green, backgroundColor: '#3f9059', pointStyle: 'rect', pointRadius: 2.9, pointBorderWidth: 0 },
                { data: red, backgroundColor: '#cf3a30', pointStyle: 'triangle', pointRadius: 2.6, pointBorderWidth: 0 }
            ]
        },
        options: {
            layout: { padding: { top: 4, right: 4 } },
            scales: {
                x: {
                    min: xMin, max: xMax,
                    grid: { display: false, drawTicks: true, tickLength: 4, tickWidth: 1.6, tickColor: '#111' },
                    border: { color: '#111', width: 1.6 },
                    afterBuildTicks: setTicks([0, 1, 2]),
                    afterFit: fixedSize('height', 48),
                    ticks: {
                        autoSkip: false, minRotation: 45, maxRotation: 45, padding: 1, color: '#111',
                        font: { size: 11.5, weight: 'bold' }, callback: v => gCategories[v]
                    }
                },
                y: {
                    min: -.2, max: 1,
                    grid: { display: false, drawTicks: true, tickLength: 4, tickWidth: 1.6, tickColor: '#111' },
                    border: { color: '#111', width: 1.6 },
                    afterBuildTicks: setTicks([-.2, 0, .2, .4, .6, .8, 1]),
                    afterFit: fixedSize('width', 32),
                    ticks: { autoSkip: false, padding: 1, color: '#111', font: { size: 8.6, weight: 'bold' }, callback: v => v.toFixed(1) }
                }
            }
        }
    });
}
residencyChart([435, 841, 73, 110], gLeftBlue, gLeftGreen, gLeftRed, -.636, 2.68);
residencyChart([542, 841, 74, 110], gRightBlue, gRightGreen, gRightRed, -.636, 2.68);
text('Tissue residency index', 403, 894, 'font-size:9.5px;font-weight:bold;color:#111;', -90);

const gLegendLeft = ['MAIT17', 'NKT17', 'Th17'];
const gLegendRight = ['MAIT1', 'NKT1', 'EMCD8'];
gLegendLeft.forEach((t, i) => text(t, 453 + t.length * 2.3, 828 + i * 12, 'font-size:8px;color:#333;'));
gLegendRight.forEach((t, i) => text(t, 560 + t.length * 2.3, 828 + i * 12, 'font-size:8px;color:#333;'));
mark(441, 828, 5, '#4f86c6', 'circle');
mark(441, 840, 5, '#3f9059', 'square');
mark(441, 851, 5, '#cf3a30', 'triangle');
mark(548, 828, 5, '#4f86c6', 'circle');
mark(548, 840, 5, '#3f9059', 'square');
mark(548, 851, 5, '#cf3a30', 'triangle');

// ===== PANEL LETTERS =====
[['a', 5, 5], ['b', 5, 235], ['c', 4, 521], ['d', 4, 742], ['e', 303, 5], ['f', 286, 608], ['g', 288, 819]]
    .forEach(l => text(l[0], l[1], l[2], 'font-size:14px;font-weight:bold;color:#111;'));
</script>
</body>
</html>
